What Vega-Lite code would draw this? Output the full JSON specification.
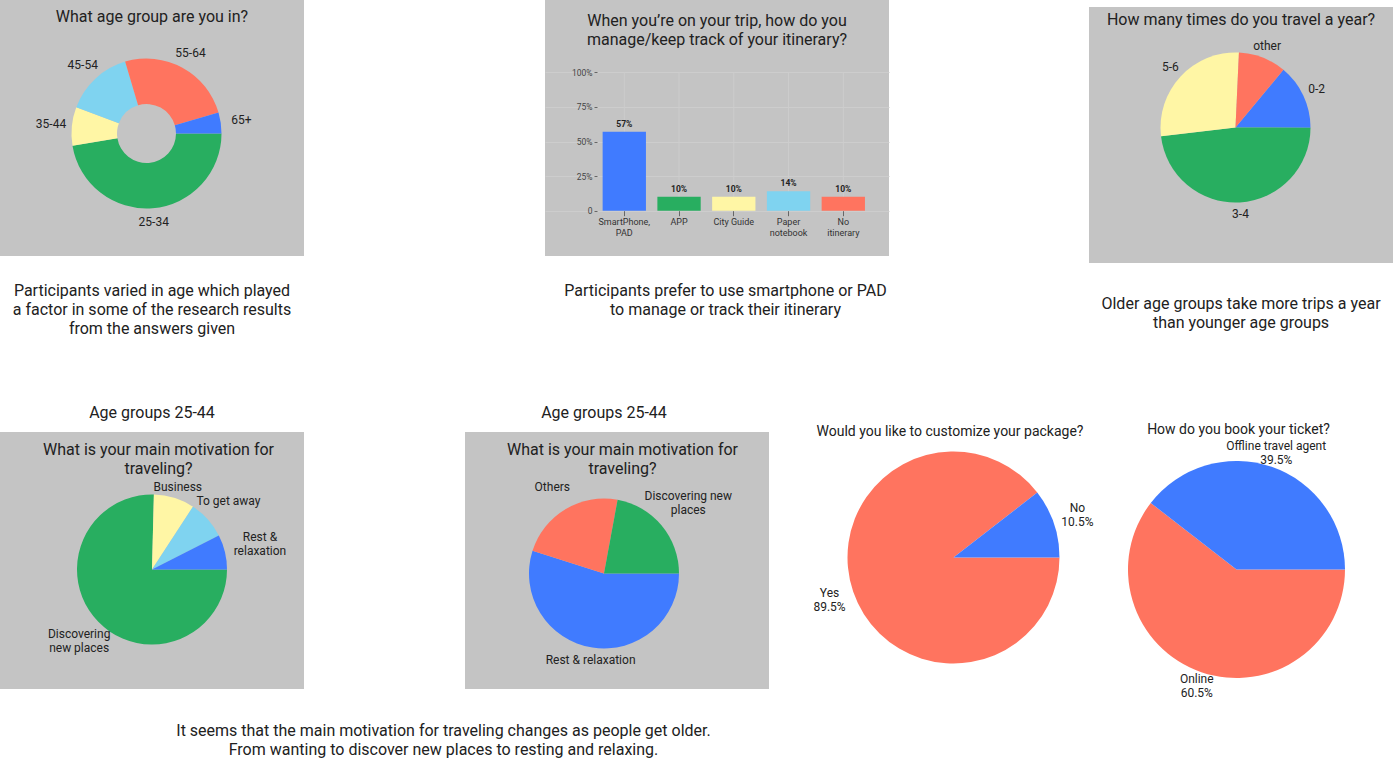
{
  "$schema": "https://vega.github.io/schema/vega-lite/v6.json",
  "padding": 0,
  "background": "white",
  "config": {
    "view": {"stroke": null},
    "font": "Roboto",
    "concat": {"spacing": 0}
  },
  "spacing": 30,
  "resolve": {"scale": {"color": "independent", "theta": "independent", "x": "independent", "y": "independent"}},
  "vconcat": [
    {
      "spacing": 241,
      "resolve": {"scale": {"color": "independent", "theta": "independent", "x": "independent", "y": "independent"}},
      "hconcat": [
        {
          "spacing": 0,
          "resolve": {"scale": {"color": "independent", "theta": "independent"}},
          "vconcat": [
            {"width": 304, "height": 34, "view": {"fill": "#c4c4c4"}, "data": {"values": [{"t": "What age group are you in?"}]},
             "mark": {"type": "text", "font": "Roboto", "fontSize": 16, "color": "#212121", "align": "center", "baseline": "middle", "clip": true},
             "encoding": {"text": {"field": "t", "type": "nominal"}}},
            {
              "spacing": 0,
              "resolve": {"scale": {"color": "independent", "theta": "independent"}},
              "hconcat": [
                {
                  "width": 293, "height": 199, "view": {"fill": "#c4c4c4"},
                  "data": {"values": [
                    {"age": "25-34", "share": 47.4},
                    {"age": "35-44", "share": 8.3},
                    {"age": "45-54", "share": 14.7},
                    {"age": "55-64", "share": 25.1},
                    {"age": "65+", "share": 4.5}
                  ]},
                  "encoding": {
                    "theta": {"field": "share", "type": "quantitative", "stack": "normalize", "scale": {"range": [1.5708, 7.854]}},
                    "order": {"field": "age", "type": "ordinal", "sort": "ascending"},
                    "color": {"field": "age", "type": "nominal", "legend": null,
                      "scale": {"domain": ["25-34", "35-44", "45-54", "55-64", "65+"], "range": ["#28ae60", "#fff6a5", "#7fd3f0", "#ff745f", "#407bff"]}}
                  },
                  "layer": [
                    {"mark": {"type": "arc", "outerRadius": 75, "innerRadius": 29.5}},
                    {"mark": {"type": "text", "font": "Roboto", "fontSize": 12, "align": "center", "baseline": "middle", "clip": true,
                      "radius": {"expr": "88 + 8*abs(sin(1.5708 + PI*(datum.share_start + datum.share_end)))"}},
                     "encoding": {"text": {"field": "age", "type": "nominal"}, "color": {"value": "#222222"}}}
                  ]
                },
                {"width": 11, "height": 199, "view": {"fill": "#c4c4c4"}, "data": {"values": []}, "mark": "text", "encoding": {"text": {"value": ""}}}
              ]
            },
            {"width": 304, "height": 23, "view": {"fill": "#c4c4c4"}, "data": {"values": []}, "mark": "text", "encoding": {"text": {"value": ""}}},
            {"width": 304, "height": 108, "data": {"values": [{"t": "Participants varied in age which played\na factor in some of the research results\nfrom the answers given"}]},
             "mark": {"type": "text", "font": "Roboto", "fontSize": 16, "lineHeight": 19, "lineBreak": "\n", "dy": -19, "color": "#212121", "align": "center", "baseline": "middle"},
             "encoding": {"text": {"field": "t", "type": "nominal"}}}
          ]
        },
        {
          "spacing": 183,
          "resolve": {"scale": {"color": "independent", "theta": "independent", "x": "independent", "y": "independent"}},
          "hconcat": [
            {
              "spacing": 0,
              "resolve": {"scale": {"color": "independent", "theta": "independent", "x": "independent", "y": "independent"}},
              "vconcat": [
                {"width": 344, "height": 60, "view": {"fill": "#c4c4c4"}, "data": {"values": [{"t": "When you’re on your trip, how do you\nmanage/keep track of your itinerary?"}]},
                 "mark": {"type": "text", "font": "Roboto", "fontSize": 16, "lineHeight": 19, "lineBreak": "\n", "dy": -9.5, "color": "#212121", "align": "center", "baseline": "middle", "clip": true},
                 "encoding": {"text": {"field": "t", "type": "nominal"}}},
                {
                  "width": 344, "height": 196, "view": {"fill": "#c4c4c4"},
                  "data": {"values": [
                    {"option": "SmartPhone, PAD", "share": 0.57},
                    {"option": "APP", "share": 0.10},
                    {"option": "City Guide", "share": 0.10},
                    {"option": "Paper notebook", "share": 0.14},
                    {"option": "No itinerary", "share": 0.10}
                  ]},
                  "encoding": {
                    "x": {"field": "option", "type": "nominal", "sort": null,
                      "scale": {"paddingInner": 0.209, "paddingOuter": 0.746, "align": 0.7056},
                      "axis": {"orient": "bottom", "offset": -45.3, "title": null, "domain": false, "ticks": true, "tickSize": 5, "tickColor": "#666666",
                        "labelFont": "Roboto", "labelFontSize": 9, "labelColor": "#333333", "labelPadding": 2, "labelAngle": 0, "labelLineHeight": 11,
                        "labelExpr": "datum.label == 'City Guide' ? datum.label : split(datum.label, ' ')", "grid": false}}
                  },
                  "layer": [
                    {"mark": {"type": "rule", "color": "#cdcdcd", "strokeWidth": 1},
                     "encoding": {"y": {"datum": 0, "type": "quantitative"}, "y2": {"datum": 1}}},
                    {"mark": {"type": "bar"},
                     "encoding": {
                       "y": {"field": "share", "type": "quantitative",
                         "scale": {"domain": [-0.3273, 1.0889], "nice": false, "zero": false},
                         "axis": {"values": [0, 0.25, 0.5, 0.75, 1], "labelExpr": "datum.value == 0 ? '0' : format(datum.value, '.0%')", "offset": -52, "title": null,
                           "domain": false, "tickSize": 3, "tickColor": "#666666", "labelFont": "Roboto", "labelFontSize": 8.5, "labelColor": "#444444", "labelPadding": 2,
                           "grid": true, "gridColor": "#cdcdcd"}},
                       "y2": {"datum": 0},
                       "color": {"field": "option", "type": "nominal", "legend": null,
                         "scale": {"domain": ["SmartPhone, PAD", "APP", "City Guide", "Paper notebook", "No itinerary"], "range": ["#407bff", "#28ae60", "#fff6a5", "#7fd3f0", "#ff745f"]}}
                     }},
                    {"mark": {"type": "text", "baseline": "bottom", "dy": -3, "font": "Roboto", "fontSize": 8.5, "fontWeight": "bold", "color": "#222222"},
                     "encoding": {"y": {"field": "share", "type": "quantitative"}, "text": {"field": "share", "type": "quantitative", "format": ".0%"}}}
                  ]
                },
                {"width": 361, "height": 89, "data": {"values": [{"t": "Participants prefer to use smartphone or PAD\nto manage or track their itinerary"}]},
                 "mark": {"type": "text", "font": "Roboto", "fontSize": 16, "lineHeight": 19, "lineBreak": "\n", "dy": -9.5, "color": "#212121", "align": "center", "baseline": "middle"},
                 "encoding": {"text": {"field": "t", "type": "nominal"}}}
              ]
            },
            {
              "spacing": 0,
              "resolve": {"scale": {"color": "independent", "theta": "independent"}},
              "vconcat": [
                {"width": 1, "height": 7, "data": {"values": []}, "mark": "text", "encoding": {"text": {"value": ""}}},
                {"width": 304, "height": 26, "view": {"fill": "#c4c4c4"}, "data": {"values": [{"t": "How many times do you travel a year?"}]},
                 "mark": {"type": "text", "font": "Roboto", "fontSize": 16, "color": "#212121", "align": "center", "baseline": "middle", "clip": true},
                 "encoding": {"text": {"field": "t", "type": "nominal"}}},
                {
                  "spacing": 0,
                  "resolve": {"scale": {"color": "independent", "theta": "independent"}},
                  "hconcat": [
                    {
                      "width": 293, "height": 189, "view": {"fill": "#c4c4c4"},
                      "data": {"values": [
                        {"trips": "0-2", "share": 14.0},
                        {"trips": "3-4", "share": 48.1},
                        {"trips": "5-6", "share": 27.6},
                        {"trips": "other", "share": 10.3}
                      ]},
                      "encoding": {
                        "theta": {"field": "share", "type": "quantitative", "stack": "normalize", "scale": {"range": [0.6929, 6.9761]}},
                        "order": {"field": "trips", "type": "ordinal", "sort": "ascending"},
                        "color": {"field": "trips", "type": "nominal", "legend": null,
                          "scale": {"domain": ["0-2", "3-4", "5-6", "other"], "range": ["#407bff", "#28ae60", "#fff6a5", "#ff745f"]}}
                      },
                      "layer": [
                        {"mark": {"type": "arc", "outerRadius": 75}},
                        {"mark": {"type": "text", "font": "Roboto", "fontSize": 12, "align": "center", "baseline": "middle", "clip": true,
                          "radius": {"expr": "86 + 4*abs(sin(0.6929 + PI*(datum.share_start + datum.share_end)))"}},
                         "encoding": {"text": {"field": "trips", "type": "nominal"}, "color": {"value": "#222222"}}}
                      ]
                    },
                    {"width": 11, "height": 189, "view": {"fill": "#c4c4c4"}, "data": {"values": []}, "mark": "text", "encoding": {"text": {"value": ""}}}
                  ]
                },
                {"width": 304, "height": 41, "view": {"fill": "#c4c4c4"}, "data": {"values": []}, "mark": "text", "encoding": {"text": {"value": ""}}},
                {"width": 304, "height": 101, "data": {"values": [{"t": "Older age groups take more trips a year\nthan younger age groups"}]},
                 "mark": {"type": "text", "font": "Roboto", "fontSize": 16, "lineHeight": 19, "lineBreak": "\n", "dy": -9.5, "color": "#212121", "align": "center", "baseline": "middle"},
                 "encoding": {"text": {"field": "t", "type": "nominal"}}}
              ]
            }
          ]
        }
      ]
    },
    {
      "spacing": 23,
      "resolve": {"scale": {"color": "independent", "theta": "independent"}},
      "vconcat": [
        {
          "spacing": 161,
          "resolve": {"scale": {"color": "independent", "theta": "independent"}},
          "hconcat": [
            {
              "spacing": 0,
              "resolve": {"scale": {"color": "independent", "theta": "independent"}},
              "vconcat": [
                {"width": 304, "height": 38, "data": {"values": [{"t": "Age groups 25-44"}]},
                 "mark": {"type": "text", "font": "Roboto", "fontSize": 16, "color": "#212121", "align": "center", "baseline": "middle"},
                 "encoding": {"text": {"field": "t", "type": "nominal"}}},
                {
                  "spacing": 0,
                  "hconcat": [
                    {"width": 13, "height": 48, "view": {"fill": "#c4c4c4"}, "data": {"values": []}, "mark": "text", "encoding": {"text": {"value": ""}}},
                    {"width": 291, "height": 48, "view": {"fill": "#c4c4c4"}, "data": {"values": [{"t": "What is your main motivation for\ntraveling?"}]},
                     "mark": {"type": "text", "font": "Roboto", "fontSize": 16, "lineHeight": 19, "lineBreak": "\n", "dy": -6.5, "color": "#212121", "align": "center", "baseline": "middle", "clip": true},
                     "encoding": {"text": {"field": "t", "type": "nominal"}}}
                  ]
                },
                {
                  "width": 304, "height": 179, "view": {"fill": "#c4c4c4"},
                  "data": {"values": [
                    {"motivation": "Discovering\nnew places", "share": 75.4},
                    {"motivation": "Business", "share": 8.8},
                    {"motivation": "To get away", "share": 8.3},
                    {"motivation": "Rest &\nrelaxation", "share": 7.5}
                  ]},
                  "encoding": {
                    "theta": {"field": "share", "type": "quantitative", "stack": "normalize", "scale": {"range": [1.5708, 7.854]}},
                    "order": {"field": "share", "type": "quantitative", "sort": "descending"},
                    "color": {"field": "motivation", "type": "nominal", "legend": null,
                      "scale": {"domain": ["Discovering\nnew places", "Business", "To get away", "Rest &\nrelaxation"], "range": ["#28ae60", "#fff6a5", "#7fd3f0", "#407bff"]}}
                  },
                  "layer": [
                    {"mark": {"type": "arc", "outerRadius": 75}},
                    {"mark": {"type": "text", "font": "Roboto", "fontSize": 12, "lineHeight": 14, "lineBreak": "\n", "align": "center", "baseline": "middle", "clip": true,
                      "dy": {"expr": "-7*(length(split(datum.motivation, '\\n')) - 1)"},
                      "radius": {"expr": "76 + 36*abs(sin(1.5708 + PI*(datum.share_start + datum.share_end)))"}},
                     "encoding": {"text": {"field": "motivation", "type": "nominal"}, "color": {"value": "#222222"}}}
                  ]
                },
                {"width": 304, "height": 30, "view": {"fill": "#c4c4c4"}, "data": {"values": []}, "mark": "text", "encoding": {"text": {"value": ""}}}
              ]
            },
            {
              "spacing": 39,
              "resolve": {"scale": {"color": "independent", "theta": "independent"}},
              "hconcat": [
                {
                  "spacing": 0,
                  "resolve": {"scale": {"color": "independent", "theta": "independent"}},
                  "vconcat": [
                    {"width": 278, "height": 38, "data": {"values": [{"t": "Age groups 25-44"}]},
                     "mark": {"type": "text", "font": "Roboto", "fontSize": 16, "color": "#212121", "align": "center", "baseline": "middle"},
                     "encoding": {"text": {"field": "t", "type": "nominal"}}},
                    {
                      "spacing": 0,
                      "hconcat": [
                        {"width": 11, "height": 50, "view": {"fill": "#c4c4c4"}, "data": {"values": []}, "mark": "text", "encoding": {"text": {"value": ""}}},
                        {"width": 293, "height": 50, "view": {"fill": "#c4c4c4"}, "data": {"values": [{"t": "What is your main motivation for\ntraveling?"}]},
                         "mark": {"type": "text", "font": "Roboto", "fontSize": 16, "lineHeight": 19, "lineBreak": "\n", "dy": -7.5, "color": "#212121", "align": "center", "baseline": "middle", "clip": true},
                         "encoding": {"text": {"field": "t", "type": "nominal"}}}
                      ]
                    },
                    {
                      "spacing": 0,
                      "resolve": {"scale": {"color": "independent", "theta": "independent"}},
                      "hconcat": [
                        {
                          "width": 278, "height": 183, "view": {"fill": "#c4c4c4"},
                          "data": {"values": [
                            {"motivation": "Rest & relaxation", "share": 54.9},
                            {"motivation": "Others", "share": 23.0},
                            {"motivation": "Discovering new\nplaces", "share": 22.1}
                          ]},
                          "encoding": {
                            "theta": {"field": "share", "type": "quantitative", "stack": "normalize", "scale": {"range": [1.5708, 7.854]}},
                            "order": {"field": "share", "type": "quantitative", "sort": "descending"},
                            "color": {"field": "motivation", "type": "nominal", "legend": null,
                              "scale": {"domain": ["Rest & relaxation", "Others", "Discovering new\nplaces"], "range": ["#407bff", "#ff745f", "#28ae60"]}}
                          },
                          "layer": [
                            {"mark": {"type": "arc", "outerRadius": 75}},
                            {"mark": {"type": "text", "font": "Roboto", "fontSize": 12, "lineHeight": 14, "lineBreak": "\n", "align": "center", "baseline": "middle", "clip": true,
                              "dy": {"expr": "-7*(length(split(datum.motivation, '\\n')) - 1)"},
                              "radius": {"expr": "82 + 36*abs(sin(1.5708 + PI*(datum.share_start + datum.share_end)))"}},
                             "encoding": {"text": {"field": "motivation", "type": "nominal"}, "color": {"value": "#222222"}}}
                          ]
                        },
                        {"width": 26, "height": 183, "view": {"fill": "#c4c4c4"}, "data": {"values": []}, "mark": "text", "encoding": {"text": {"value": ""}}}
                      ]
                    },
                    {"width": 304, "height": 24, "view": {"fill": "#c4c4c4"}, "data": {"values": []}, "mark": "text", "encoding": {"text": {"value": ""}}}
                  ]
                },
                {
                  "spacing": 2,
                  "resolve": {"scale": {"color": "independent", "theta": "independent"}},
                  "hconcat": [
                    {
                      "spacing": 0,
                      "resolve": {"scale": {"color": "independent", "theta": "independent"}},
                      "vconcat": [
                        {"width": 1, "height": 23, "data": {"values": []}, "mark": "text", "encoding": {"text": {"value": ""}}},
                        {"width": 284, "height": 29, "data": {"values": [{"t": "Would you like to customize your package?"}]},
                         "mark": {"type": "text", "font": "Roboto", "fontSize": 14, "color": "#212121", "align": "center", "baseline": "middle", "clip": true},
                         "encoding": {"text": {"field": "t", "type": "nominal"}}},
                        {
                          "width": 291, "height": 223,
                          "data": {"values": [
                            {"answer": "Yes\n89.5%", "share": 89.5},
                            {"answer": "No\n10.5%", "share": 10.5}
                          ]},
                          "encoding": {
                            "theta": {"field": "share", "type": "quantitative", "stack": "normalize", "scale": {"range": [1.5708, 7.854]}},
                            "order": {"field": "share", "type": "quantitative", "sort": "descending"},
                            "color": {"field": "answer", "type": "nominal", "legend": null,
                              "scale": {"domain": ["Yes\n89.5%", "No\n10.5%"], "range": ["#ff745f", "#407bff"]}}
                          },
                          "layer": [
                            {"mark": {"type": "arc", "outerRadius": 106}},
                            {"mark": {"type": "text", "font": "Roboto", "fontSize": 12, "lineHeight": 14, "lineBreak": "\n", "dy": -7, "align": "center", "baseline": "middle", "clip": true,
                              "radius": {"expr": "114 + 18*abs(sin(1.5708 + PI*(datum.share_start + datum.share_end)))"}},
                             "encoding": {"text": {"field": "answer", "type": "nominal"}, "color": {"value": "#222222"}}}
                          ]
                        }
                      ]
                    },
                    {
                      "spacing": 0,
                      "resolve": {"scale": {"color": "independent", "theta": "independent"}},
                      "vconcat": [
                        {"width": 1, "height": 26, "data": {"values": []}, "mark": "text", "encoding": {"text": {"value": ""}}},
                        {"width": 275, "height": 20, "data": {"values": [{"t": "How do you book your  ticket?"}]},
                         "mark": {"type": "text", "font": "Roboto", "fontSize": 14, "color": "#212121", "align": "center", "baseline": "middle", "clip": true},
                         "encoding": {"text": {"field": "t", "type": "nominal"}}},
                        {
                          "width": 271, "height": 259,
                          "data": {"values": [
                            {"answer": "Online\n60.5%", "share": 60.5},
                            {"answer": "Offline travel agent\n39.5%", "share": 39.5}
                          ]},
                          "encoding": {
                            "theta": {"field": "share", "type": "quantitative", "stack": "normalize", "scale": {"range": [1.5708, 7.854]}},
                            "order": {"field": "share", "type": "quantitative", "sort": "descending"},
                            "color": {"field": "answer", "type": "nominal", "legend": null,
                              "scale": {"domain": ["Online\n60.5%", "Offline travel agent\n39.5%"], "range": ["#ff745f", "#407bff"]}}
                          },
                          "layer": [
                            {"mark": {"type": "arc", "outerRadius": 108.5}},
                            {"mark": {"type": "text", "font": "Roboto", "fontSize": 12, "lineHeight": 14, "lineBreak": "\n", "dy": -7, "align": "center", "baseline": "middle", "clip": true,
                              "radius": {"expr": "117 + 6*abs(cos(1.5708 + PI*(datum.share_start + datum.share_end)))"}},
                             "encoding": {"text": {"field": "answer", "type": "nominal"}, "color": {"value": "#222222"}}}
                          ]
                        }
                      ]
                    }
                  ]
                }
              ]
            }
          ]
        },
        {"width": 887, "height": 37, "data": {"values": [{"t": "It seems that the main motivation for traveling changes as people get older.\nFrom wanting to discover new places to resting and relaxing."}]},
         "mark": {"type": "text", "font": "Roboto", "fontSize": 16, "lineHeight": 19, "lineBreak": "\n", "dy": -9.5, "color": "#212121", "align": "center", "baseline": "middle"},
         "encoding": {"text": {"field": "t", "type": "nominal"}}}
      ]
    }
  ]
}
